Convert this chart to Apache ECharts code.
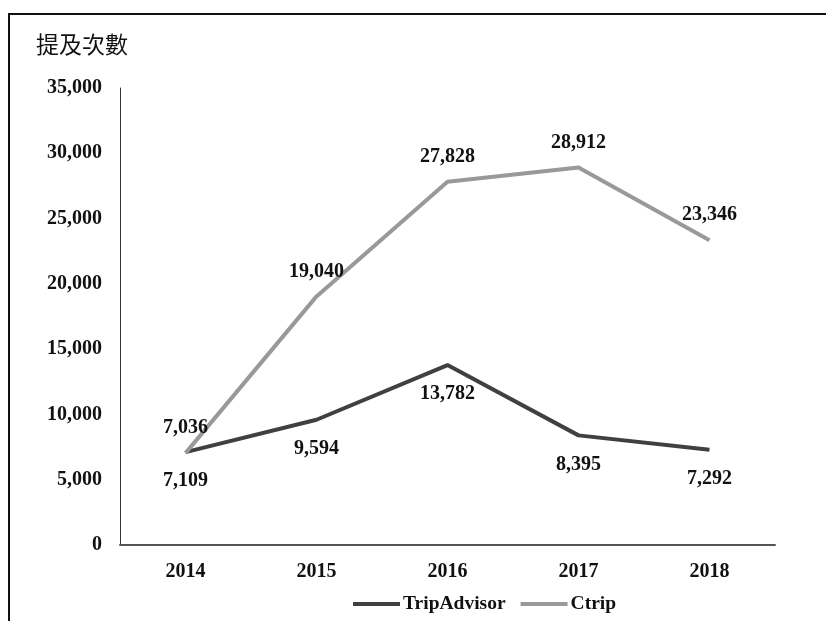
<!DOCTYPE html>
<html>
<head>
<meta charset="utf-8">
<script src="https://cdn.jsdelivr.net/npm/echarts@6/dist/echarts.min.js"></script>
<style>
  html, body { margin: 0; padding: 0; background: #fff; }
  .frame {
    position: absolute;
    left: 8px;
    top: 13px;
    width: 818px;
    height: 608px;
    border-top: 2px solid #111;
    border-left: 2px solid #111;
    box-sizing: border-box;
  }
  #chart { position: absolute; left: 0; top: 0; width: 826px; height: 621px; }
</style>
</head>
<body>
<div class="frame"></div>
<div id="chart"></div>
<script>
const years = ['2014', '2015', '2016', '2017', '2018']
const tripAdvisor = [7109, 9594, 13782, 8395, 7292]
const ctrip = [7036, 19040, 27828, 28912, 23346]

const serif = '"Liberation Serif", "DejaVu Serif", serif'
const chart = echarts.init(document.getElementById('chart'))

const labelFmt = p => p.value.toLocaleString('en-US')

chart.setOption({
  animation: false,
  title: {
    text: '提及次數',
    left: 31,
    top: 28,
    textStyle: {
      fontFamily: '"Noto Sans CJK TC", sans-serif',
      fontSize: 23,
      fontWeight: 'normal',
      color: '#111',
    },
  },
  legend: {
    data: ['TripAdvisor', 'Ctrip'],
    left: 348,
    top: 589,
    icon: 'rect',
    itemWidth: 47,
    itemHeight: 4,
    itemGap: 15,
    textStyle: {
      fontFamily: serif,
      fontSize: 19.5,
      fontWeight: 'bold',
      color: '#111',
      padding: [0, 0, 0, -2],
    },
  },
  grid: {
    left: 120,
    right: 51,
    top: 88,
    bottom: 76,
  },
  xAxis: {
    type: 'category',
    data: years,
    axisLine: { lineStyle: { color: '#555', width: 2 } },
    axisTick: { show: false },
    axisLabel: {
      fontFamily: serif,
      fontSize: 20,
      fontWeight: 'bold',
      color: '#111',
      margin: 17,
    },
  },
  yAxis: {
    type: 'value',
    min: 0,
    max: 35000,
    interval: 5000,
    axisLine: { show: true, lineStyle: { color: '#333', width: 1 } },
    axisTick: { show: false },
    splitLine: { show: false },
    axisLabel: {
      fontFamily: serif,
      fontSize: 20,
      fontWeight: 'bold',
      color: '#111',
      margin: 18,
      formatter: v => v.toLocaleString('en-US'),
    },
  },
  series: [
    {
      name: 'TripAdvisor',
      type: 'line',
      data: tripAdvisor,
      symbol: 'circle',
      symbolSize: 0,
      showSymbol: true,
      lineStyle: { color: '#404040', width: 4 },
      itemStyle: { color: '#404040' },
      label: {
        show: true,
        position: 'bottom',
        distance: 19,
        formatter: labelFmt,
        fontFamily: serif,
        fontSize: 20,
        fontWeight: 'bold',
        color: '#111',
      },
    },
    {
      name: 'Ctrip',
      type: 'line',
      data: ctrip,
      symbol: 'circle',
      symbolSize: 0,
      showSymbol: true,
      lineStyle: { color: '#999', width: 4 },
      itemStyle: { color: '#999' },
      label: {
        show: true,
        position: 'top',
        distance: 15,
        formatter: labelFmt,
        fontFamily: serif,
        fontSize: 20,
        fontWeight: 'bold',
        color: '#111',
      },
    },
  ],
})

window.addEventListener('resize', () => chart.resize())
</script>
</body>
</html>
